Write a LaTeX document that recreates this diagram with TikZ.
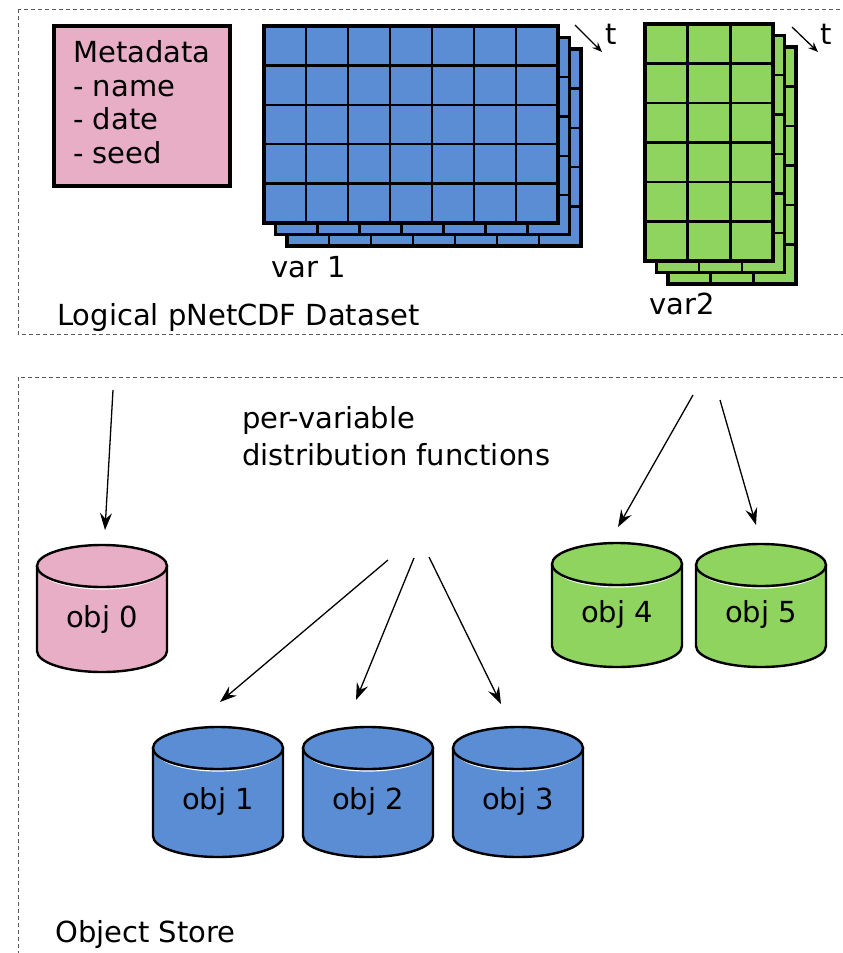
\documentclass[tikz,border=0pt]{standalone}
\usepackage{fontspec}
\setmainfont{DejaVu Sans}
\usetikzlibrary{arrows.meta}
\definecolor{mdpink}{RGB}{232,174,198}
\definecolor{varblue}{RGB}{91,141,212}
\definecolor{vargreen}{RGB}{142,212,95}
\definecolor{dashgray}{RGB}{90,90,90}

\tikzset{
  regionbox/.style={draw=dashgray, line width=1pt, dash pattern=on 4pt off 3pt},
  gridline/.style={line width=2.4pt, black},
  gridborder/.style={line width=3.6pt, black},
  metabox/.style={draw, line width=3.6pt, fill=mdpink},
  drumline/.style={line width=2.4pt, black},
  flow/.style={line width=1.3pt, -{Stealth[length=17pt,width=12pt,inset=6pt]}},
  timearrow/.style={line width=1.3pt, -{Stealth[length=10pt,width=8pt,inset=3.5pt]}},
  lbl/.style={inner sep=0pt, anchor=base west},
  objlbl/.style={inner sep=0pt, anchor=base},
}

% one layer of a grid stack: x0 y0 width height cols rows colour
\newcommand{\gridlayer}[7]{%
  \fill[#7] (#1,#2) rectangle ++(#3,#4);
  \foreach \i in {1,...,#5} {\draw[gridline] ({#1+\i*#3/#5},#2) -- ++(0,#4);}
  \foreach \j in {1,...,#6} {\draw[gridline] (#1,{#2+\j*#4/#6}) -- ++(#3,0);}
  \draw[gridborder] (#1,#2) rectangle ++(#3,#4);
}
% cylinder: cx, ytop, ybottom, colour
\newcommand{\drum}[4]{%
  \pgfmathsetmacro\drumyt{#2+21}%
  \pgfmathsetmacro\drumyb{#3-21}%
  \filldraw[drumline, fill=#4] (#1-65,\drumyt) -- (#1-65,\drumyb)
     arc[start angle=180, end angle=0, x radius=65, y radius=21] -- (#1+65,\drumyt);
  \draw[white, line width=1.2pt] (#1-63,\drumyt+2) arc[start angle=180, end angle=0, x radius=63, y radius=21];
  \filldraw[drumline, fill=#4] (#1,\drumyt) ellipse[x radius=65, y radius=21];
}

\begin{document}
\begin{tikzpicture}[x=1pt, y=-1pt, font=\fontsize{29pt}{33.8pt}\selectfont]
\useasboundingbox (0,0) rectangle (843,953);
\clip (0,0) rectangle (843,953);
\fill[white] (0,0) rectangle (843,953);

% region boxes
\draw[regionbox] (18,9) rectangle (860,334);
\draw[regionbox] (18,377) rectangle (860,970);

% metadata
\node[metabox, minimum width=176pt, minimum height=160pt, anchor=north west, inner sep=0pt] (metabox) at (52,24) {};
\node[inner sep=0pt, anchor=north west, align=left] (meta) at (73,40) {Metadata\\- name\\- date\\- seed};

% var 1 stack
\gridlayer{287}{49}{294}{197}{7}{5}{varblue}
\gridlayer{275.5}{37.5}{294}{197}{7}{5}{varblue}
\gridlayer{264}{26}{294}{197}{7}{5}{varblue}
\coordinate (t1s) at (575,25);
\coordinate (t1e) at (602,52);
\draw[timearrow] (t1s) -- (t1e);
\node[objlbl] (t1) at (611,44) {t};
\node[lbl] (var1) at (271,277) {var 1};

% var 2 stack
\gridlayer{668}{47}{128}{237}{3}{6}{vargreen}
\gridlayer{656.5}{35.5}{128}{237}{3}{6}{vargreen}
\gridlayer{645}{24}{128}{237}{3}{6}{vargreen}
\coordinate (t2s) at (792,27);
\coordinate (t2e) at (818,52);
\draw[timearrow] (t2s) -- (t2e);
\node[objlbl] (t2) at (826,44) {t};
\node[lbl] (var2) at (649,314) {var2};

\node[lbl] (logical) at (57,325) {Logical pNetCDF Dataset};

% object store
\node[inner sep=0pt, anchor=north west, align=left, font=\fontsize{29pt}{37pt}\selectfont] (dist) at (242,406) {per-variable\\distribution functions};
\node[lbl] (store) at (55,942) {Object Store};

\drum{102}{545}{672}{mdpink}
\node[objlbl] (obj0) at (102,627) {obj 0};
\drum{218}{727}{857}{varblue}
\node[objlbl] (obj1) at (218,809) {obj 1};
\drum{368}{727}{857}{varblue}
\node[objlbl] (obj2) at (368,809) {obj 2};
\drum{518}{727}{857}{varblue}
\node[objlbl] (obj3) at (518,809) {obj 3};
\drum{617}{543}{667}{vargreen}
\node[objlbl] (obj4) at (617,622) {obj 4};
\drum{761}{544}{667}{vargreen}
\node[objlbl] (obj5) at (761,622) {obj 5};

% distribution arrows
\coordinate (m0s) at (113,390);  \coordinate (m0e) at (105,530);
\coordinate (v1as) at (388,560); \coordinate (v1ae) at (220,702);
\coordinate (v1bs) at (414,558); \coordinate (v1be) at (356,700);
\coordinate (v1cs) at (429,557); \coordinate (v1ce) at (501,704);
\coordinate (v2as) at (693,395); \coordinate (v2ae) at (618,527);
\coordinate (v2bs) at (720,400); \coordinate (v2be) at (756,525);
\draw[flow] (m0s) -- (m0e);
\draw[flow] (v1as) -- (v1ae);
\draw[flow] (v1bs) -- (v1be);
\draw[flow] (v1cs) -- (v1ce);
\draw[flow] (v2as) -- (v2ae);
\draw[flow] (v2bs) -- (v2be);
\end{tikzpicture}
\end{document}
